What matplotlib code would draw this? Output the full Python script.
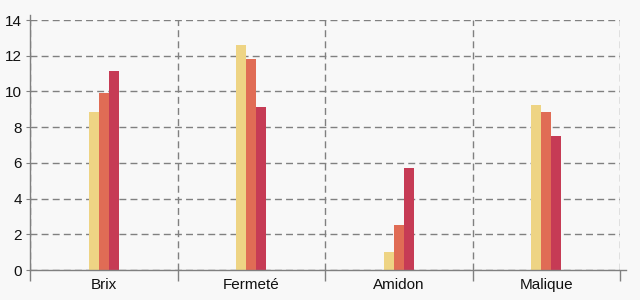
import matplotlib
matplotlib.use("Agg")
import matplotlib.pyplot as plt
import numpy as np

categories = ["Brix", "Fermeté", "Amidon", "Malique"]
serie_a = [8.85, 12.6, 1.03, 9.24]
serie_b = [9.9, 11.8, 2.52, 8.85]
serie_c = [11.15, 9.13, 5.73, 7.5]
colors = ["#eed484", "#e06c55", "#c63b55"]
y_ticks = [0, 2, 4, 6, 8, 10, 12, 14]

plt.rcParams['font.family'] = ['Liberation Sans', 'DejaVu Sans']
fig = plt.figure(figsize=(6.4, 3.0), dpi=100, facecolor="#f8f8f8")
ax = fig.add_axes([30/640, 30/300, 590/640, 250/300])
ax.set_facecolor("#f8f8f8")

x = np.arange(len(categories)) + 0.5
w = 10/147.5
for i, (vals, c) in enumerate(zip([serie_a, serie_b, serie_c], colors)):
    ax.bar(x + (i - 1) * w, vals, width=w, color=c, zorder=3, linewidth=0)

ax.set_xlim(0, 4)
ax.set_ylim(0, 14)
ax.set_yticks(y_ticks)
ax.set_xticks(x)
ax.set_xticklabels(categories)
ax.set_xticks(np.arange(5), minor=True)
ax.tick_params(axis='x', which='major', length=0, labelsize=11, pad=6, labelcolor="#111111")
ax.tick_params(axis='x', which='minor', length=8, color="#808080", width=1)
ax.tick_params(axis='y', length=3, color="#808080", labelsize=11, pad=3, labelcolor="#111111")
ax.grid(axis='y', which='major', color="#808080", linestyle=(0, (5, 3)), linewidth=1, zorder=1)
ax.grid(axis='x', which='minor', color="#808080", linestyle=(0, (5, 3)), linewidth=1, zorder=1)
for s in ax.spines.values():
    s.set_visible(False)
ax.plot([0, 0], [-0.0, 1.02], transform=ax.transAxes, color="#808080", lw=1, clip_on=False, zorder=4)
ax.plot([0, 1.01], [0, 0], transform=ax.transAxes, color="#808080", lw=1, clip_on=False, zorder=4)

fig.savefig("out.png", dpi=100, facecolor=fig.get_facecolor())
